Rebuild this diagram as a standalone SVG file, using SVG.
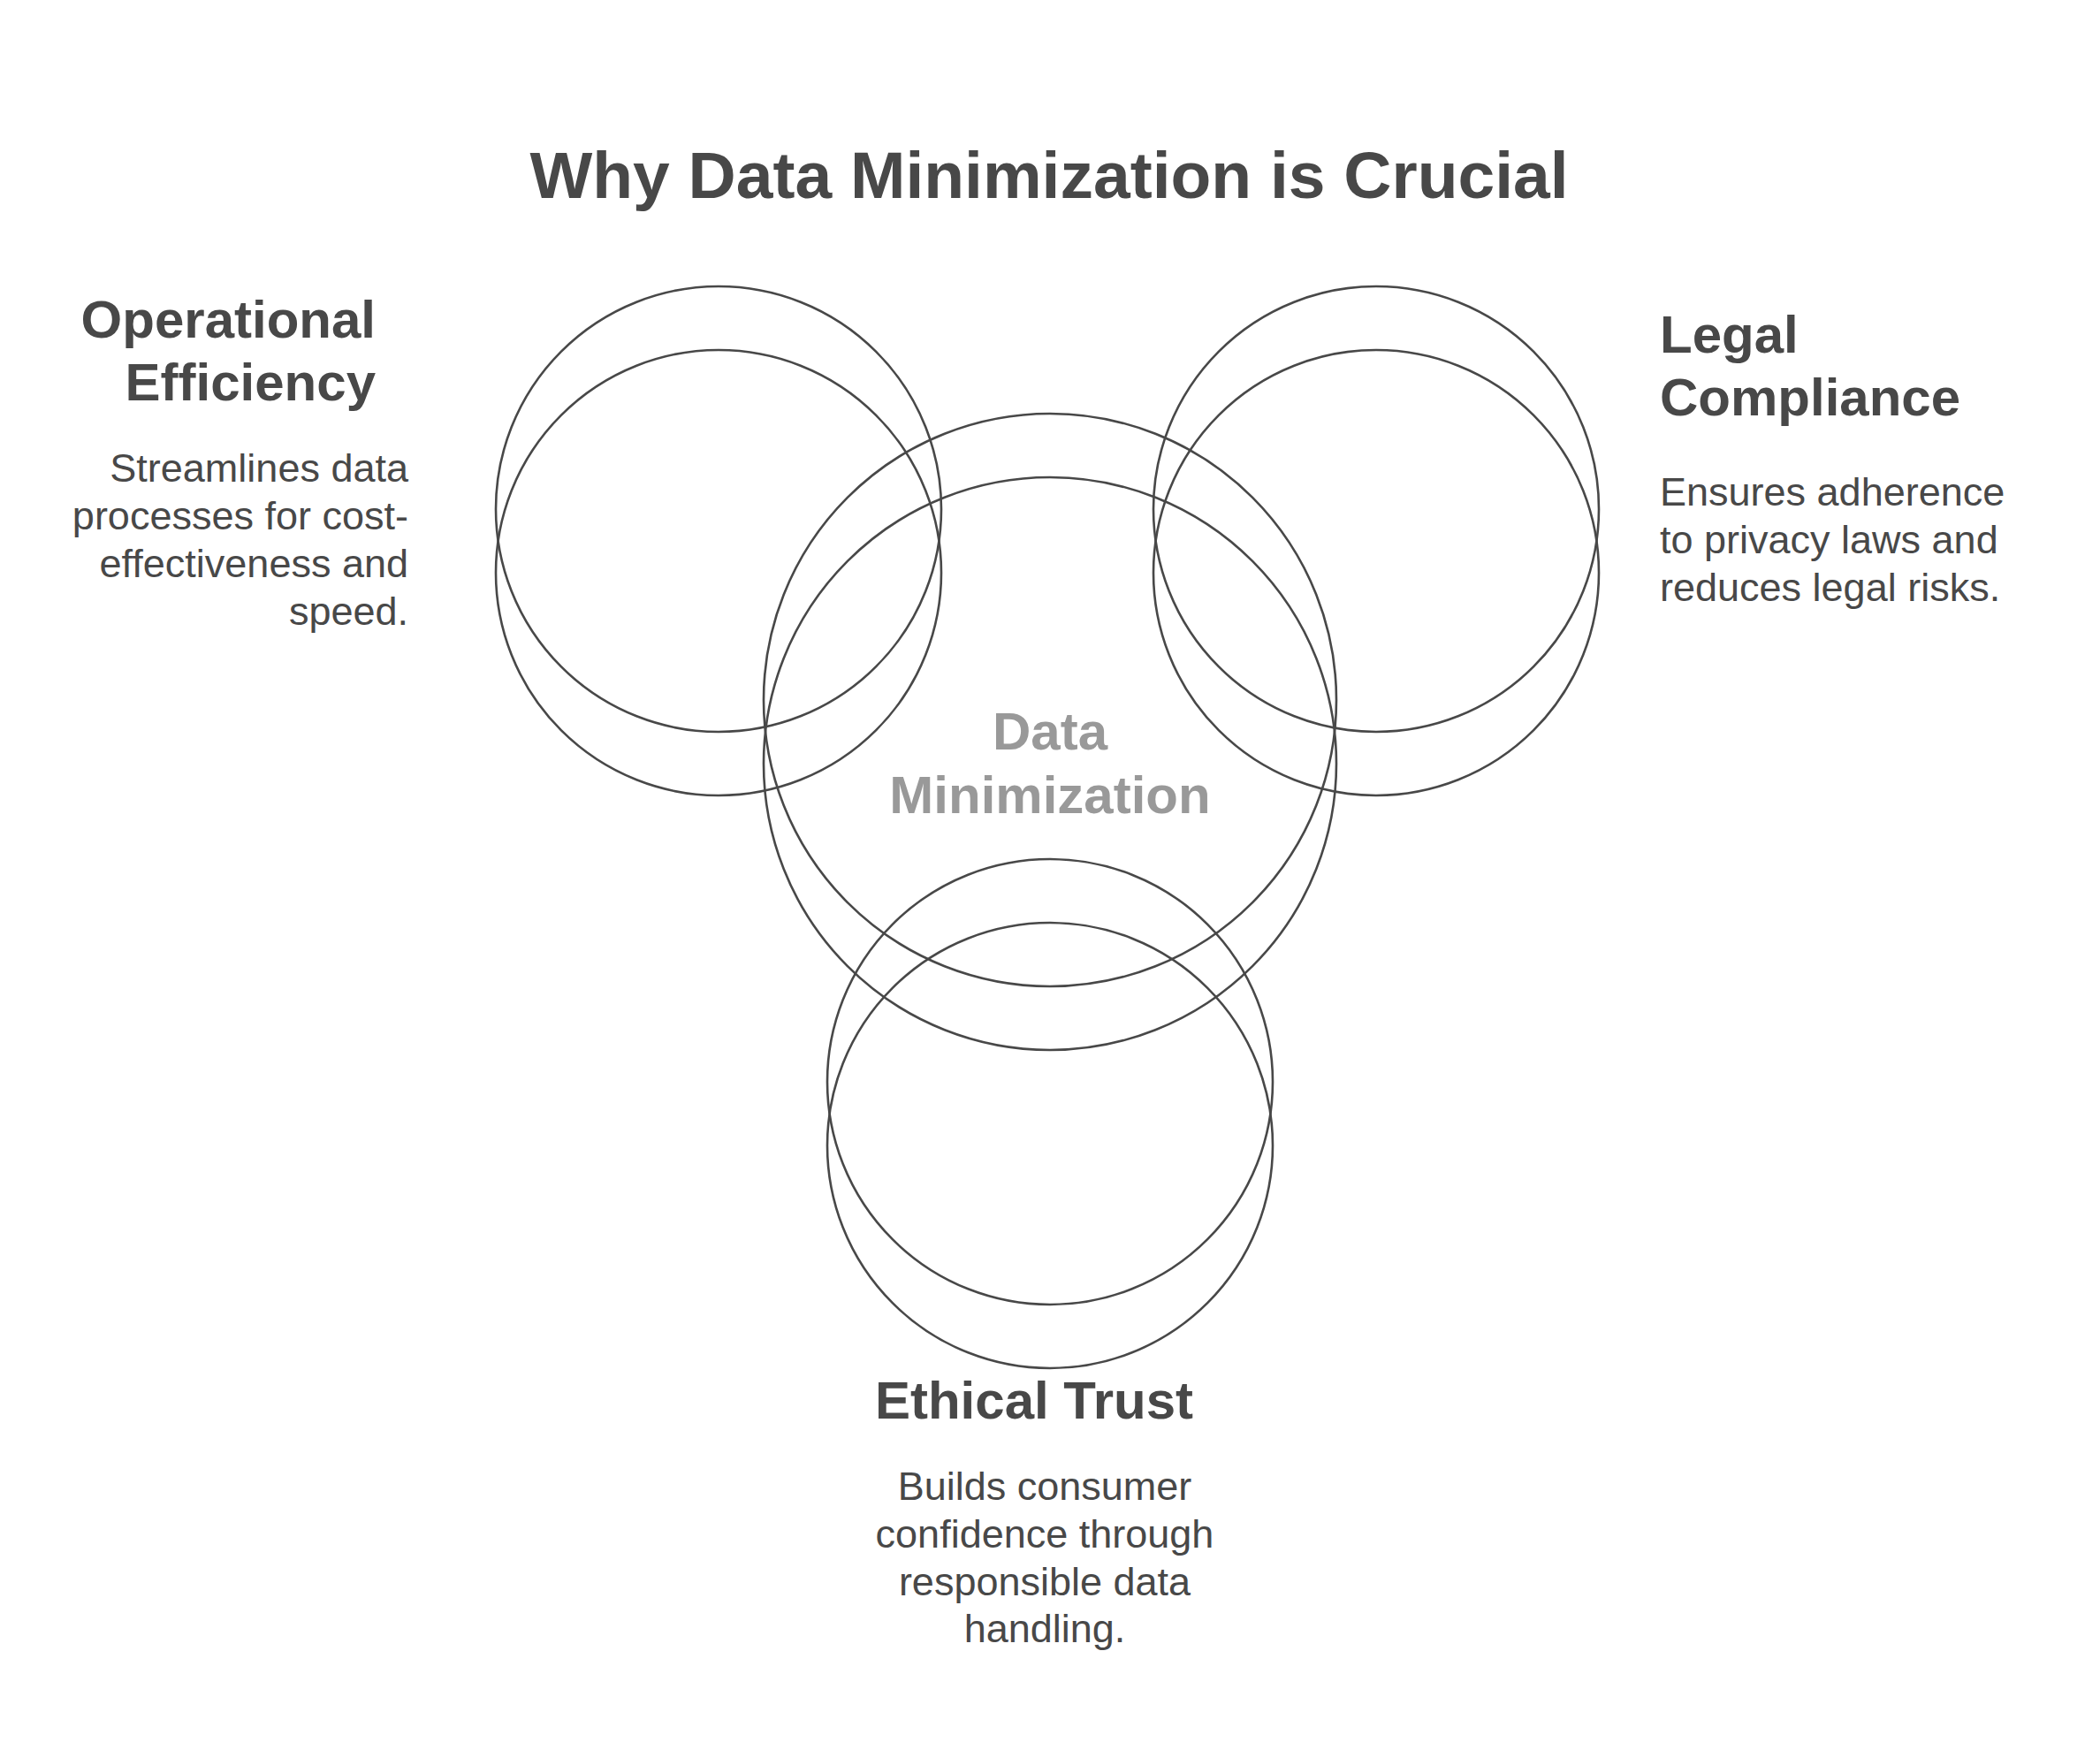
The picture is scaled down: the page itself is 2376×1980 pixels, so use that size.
<svg xmlns="http://www.w3.org/2000/svg" width="2376" height="1980" viewBox="0 0 2376 1980">
  <style>
    .ring { fill: none; stroke: #484848; stroke-width: 2.6; }
    .title { font-family: "Liberation Sans", Arial, sans-serif; font-weight: bold; font-size: 75px; fill: #484848; }
    .head { font-family: "Liberation Sans", Arial, sans-serif; font-weight: bold; font-size: 60px; fill: #484848; }
    .center { font-family: "Liberation Sans", Arial, sans-serif; font-weight: bold; font-size: 60px; fill: #999999; }
    .desc { font-family: "Liberation Sans", Arial, sans-serif; font-size: 45px; fill: #484848; }
  </style>
  <rect width="2376" height="1980" fill="#ffffff"/>
  <text id="title" class="title" x="1187" y="224" text-anchor="middle">Why Data Minimization is Crucial</text>

  <g id="node-operational-efficiency">
    <circle class="ring" cx="813" cy="576" r="252"/>
    <circle class="ring" cx="813" cy="648" r="252"/>
    <text class="head" text-anchor="end"><tspan x="425" y="382">Operational</tspan><tspan x="425" y="453">Efficiency</tspan></text>
    <text class="desc" text-anchor="end"><tspan x="462" y="545">Streamlines data</tspan><tspan x="462" y="599">processes for cost-</tspan><tspan x="462" y="653">effectiveness and</tspan><tspan x="462" y="707">speed.</tspan></text>
  </g>

  <g id="node-data-minimization">
    <circle class="ring" cx="1188" cy="792" r="324"/>
    <circle class="ring" cx="1188" cy="864" r="324"/>
    <text class="center" text-anchor="middle"><tspan x="1188" y="848">Data</tspan><tspan x="1188" y="920">Minimization</tspan></text>
  </g>

  <g id="node-legal-compliance">
    <circle class="ring" cx="1557" cy="576" r="252"/>
    <circle class="ring" cx="1557" cy="648" r="252"/>
    <text class="head"><tspan x="1878" y="399">Legal</tspan><tspan x="1878" y="470">Compliance</tspan></text>
    <text class="desc"><tspan x="1878" y="572">Ensures adherence</tspan><tspan x="1878" y="626">to privacy laws and</tspan><tspan x="1878" y="680">reduces legal risks.</tspan></text>
  </g>

  <g id="node-ethical-trust">
    <circle class="ring" cx="1188" cy="1224" r="252"/>
    <circle class="ring" cx="1188" cy="1296" r="252"/>
    <text class="head" x="1170" y="1605" text-anchor="middle">Ethical Trust</text>
    <text class="desc" text-anchor="middle"><tspan x="1182" y="1697">Builds consumer</tspan><tspan x="1182" y="1751">confidence through</tspan><tspan x="1182" y="1805">responsible data</tspan><tspan x="1182" y="1858">handling.</tspan></text>
  </g>

  <g id="connectors"></g>
</svg>
